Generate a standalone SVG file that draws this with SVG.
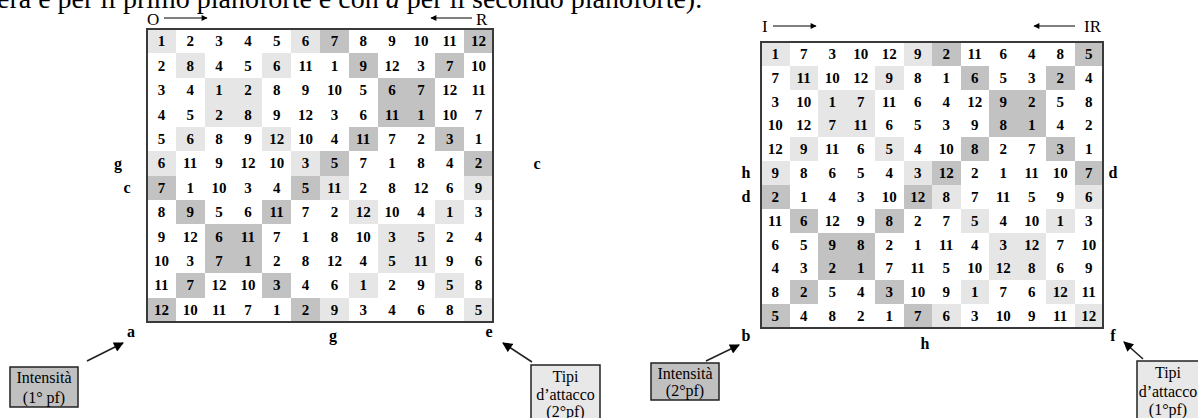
<svg xmlns="http://www.w3.org/2000/svg" xmlns:xlink="http://www.w3.org/1999/xlink" width="1198" height="418" viewBox="0 0 1198 418">
<style>
.n{font-family:"Liberation Serif","Times New Roman",serif;font-weight:bold;font-size:15px;text-anchor:middle;fill:#000}
.lb{font-family:"Liberation Serif","Times New Roman",serif;font-weight:bold;font-size:16px;text-anchor:middle;fill:#000}
.hd{font-family:"Liberation Serif","Times New Roman",serif;font-size:17px;fill:#000}
.bx{font-family:"Liberation Serif","Times New Roman",serif;font-size:16px;text-anchor:middle;fill:#000}
.cap{font-family:"Liberation Serif","Times New Roman",serif;font-size:28px;fill:#000}
.L{fill:#e6e6e6}
.D{fill:#c2c2c2}
.frame{fill:none;stroke:#3a3a3a;stroke-width:2}
.hl{stroke:#000;stroke-width:1.2;fill:none}
.cn{stroke:#222;stroke-width:1.6;fill:none}
.boxD{fill:#c0c0c0;stroke:#222;stroke-width:1.5}
.boxL{fill:#e8e8e8;stroke:#222;stroke-width:1.5}
</style>
<defs>
<marker id="ah" viewBox="0 0 10 10" refX="9" refY="5" markerWidth="7" markerHeight="6" orient="auto" markerUnits="userSpaceOnUse">
<path d="M0,0 L10,5 L0,10 z" fill="#000"/>
</marker>
<marker id="ab" viewBox="0 0 10 10" refX="9" refY="5" markerWidth="11" markerHeight="10" orient="auto" markerUnits="userSpaceOnUse">
<path d="M0,0 L10,5 L0,10 z" fill="#000"/>
</marker>
<g id="shading" shape-rendering="crispEdges">
<rect class="L" x="0" y="0" width="1" height="1"/><rect class="L" x="5" y="0" width="1" height="1"/>
<rect class="D" x="6" y="0" width="1" height="1"/><rect class="D" x="11" y="0" width="1" height="1"/>
<rect class="L" x="1" y="1" width="1" height="1"/><rect class="L" x="4" y="1" width="1" height="1"/>
<rect class="D" x="7" y="1" width="1" height="1"/><rect class="D" x="10" y="1" width="1" height="1"/>
<rect class="L" x="2" y="2" width="2" height="2"/><rect class="D" x="8" y="2" width="2" height="2"/>
<rect class="L" x="1" y="4" width="1" height="1"/><rect class="L" x="4" y="4" width="1" height="1"/>
<rect class="D" x="7" y="4" width="1" height="1"/><rect class="D" x="10" y="4" width="1" height="1"/>
<rect class="L" x="0" y="5" width="1" height="1"/><rect class="L" x="5" y="5" width="1" height="1"/>
<rect class="D" x="6" y="5" width="1" height="1"/><rect class="D" x="11" y="5" width="1" height="1"/>
<rect class="D" x="0" y="6" width="1" height="1"/><rect class="D" x="5" y="6" width="1" height="1"/>
<rect class="L" x="6" y="6" width="1" height="1"/><rect class="L" x="11" y="6" width="1" height="1"/>
<rect class="D" x="1" y="7" width="1" height="1"/><rect class="D" x="4" y="7" width="1" height="1"/>
<rect class="L" x="7" y="7" width="1" height="1"/><rect class="L" x="10" y="7" width="1" height="1"/>
<rect class="D" x="2" y="8" width="2" height="2"/><rect class="L" x="8" y="8" width="2" height="2"/>
<rect class="D" x="1" y="10" width="1" height="1"/><rect class="D" x="4" y="10" width="1" height="1"/>
<rect class="L" x="7" y="10" width="1" height="1"/><rect class="L" x="10" y="10" width="1" height="1"/>
<rect class="D" x="0" y="11" width="1" height="1"/><rect class="D" x="5" y="11" width="1" height="1"/>
<rect class="L" x="6" y="11" width="1" height="1"/><rect class="L" x="11" y="11" width="1" height="1"/>
</g>
</defs>
<rect width="1198" height="418" fill="#fff"/>

<text class="cap" x="-3" y="8">era e per il primo pianoforte e con <tspan font-style="italic">a</tspan> per il secondo pianoforte).</text>

<!-- Left matrix -->
<g id="matrix-left" transform="translate(147,29)">
<use xlink:href="#shading" href="#shading" transform="scale(28.833,24.417)"/>
<g class="n">
<g transform="translate(0,17.2)"><text x="14.4">1</text><text x="43.2">2</text><text x="72.1">3</text><text x="100.9">4</text><text x="129.7">5</text><text x="158.6">6</text><text x="187.4">7</text><text x="216.2">8</text><text x="245.1">9</text><text x="273.9">10</text><text x="302.7">11</text><text x="331.6">12</text></g>
<g transform="translate(0,41.6)"><text x="14.4">2</text><text x="43.2">8</text><text x="72.1">4</text><text x="100.9">5</text><text x="129.7">6</text><text x="158.6">11</text><text x="187.4">1</text><text x="216.2">9</text><text x="245.1">12</text><text x="273.9">3</text><text x="302.7">7</text><text x="331.6">10</text></g>
<g transform="translate(0,66.0)"><text x="14.4">3</text><text x="43.2">4</text><text x="72.1">1</text><text x="100.9">2</text><text x="129.7">8</text><text x="158.6">9</text><text x="187.4">10</text><text x="216.2">5</text><text x="245.1">6</text><text x="273.9">7</text><text x="302.7">12</text><text x="331.6">11</text></g>
<g transform="translate(0,90.5)"><text x="14.4">4</text><text x="43.2">5</text><text x="72.1">2</text><text x="100.9">8</text><text x="129.7">9</text><text x="158.6">12</text><text x="187.4">3</text><text x="216.2">6</text><text x="245.1">11</text><text x="273.9">1</text><text x="302.7">10</text><text x="331.6">7</text></g>
<g transform="translate(0,114.9)"><text x="14.4">5</text><text x="43.2">6</text><text x="72.1">8</text><text x="100.9">9</text><text x="129.7">12</text><text x="158.6">10</text><text x="187.4">4</text><text x="216.2">11</text><text x="245.1">7</text><text x="273.9">2</text><text x="302.7">3</text><text x="331.6">1</text></g>
<g transform="translate(0,139.3)"><text x="14.4">6</text><text x="43.2">11</text><text x="72.1">9</text><text x="100.9">12</text><text x="129.7">10</text><text x="158.6">3</text><text x="187.4">5</text><text x="216.2">7</text><text x="245.1">1</text><text x="273.9">8</text><text x="302.7">4</text><text x="331.6">2</text></g>
<g transform="translate(0,163.7)"><text x="14.4">7</text><text x="43.2">1</text><text x="72.1">10</text><text x="100.9">3</text><text x="129.7">4</text><text x="158.6">5</text><text x="187.4">11</text><text x="216.2">2</text><text x="245.1">8</text><text x="273.9">12</text><text x="302.7">6</text><text x="331.6">9</text></g>
<g transform="translate(0,188.1)"><text x="14.4">8</text><text x="43.2">9</text><text x="72.1">5</text><text x="100.9">6</text><text x="129.7">11</text><text x="158.6">7</text><text x="187.4">2</text><text x="216.2">12</text><text x="245.1">10</text><text x="273.9">4</text><text x="302.7">1</text><text x="331.6">3</text></g>
<g transform="translate(0,212.5)"><text x="14.4">9</text><text x="43.2">12</text><text x="72.1">6</text><text x="100.9">11</text><text x="129.7">7</text><text x="158.6">1</text><text x="187.4">8</text><text x="216.2">10</text><text x="245.1">3</text><text x="273.9">5</text><text x="302.7">2</text><text x="331.6">4</text></g>
<g transform="translate(0,237.0)"><text x="14.4">10</text><text x="43.2">3</text><text x="72.1">7</text><text x="100.9">1</text><text x="129.7">2</text><text x="158.6">8</text><text x="187.4">12</text><text x="216.2">4</text><text x="245.1">5</text><text x="273.9">11</text><text x="302.7">9</text><text x="331.6">6</text></g>
<g transform="translate(0,261.4)"><text x="14.4">11</text><text x="43.2">7</text><text x="72.1">12</text><text x="100.9">10</text><text x="129.7">3</text><text x="158.6">4</text><text x="187.4">6</text><text x="216.2">1</text><text x="245.1">2</text><text x="273.9">9</text><text x="302.7">5</text><text x="331.6">8</text></g>
<g transform="translate(0,285.8)"><text x="14.4">12</text><text x="43.2">10</text><text x="72.1">11</text><text x="100.9">7</text><text x="129.7">1</text><text x="158.6">2</text><text x="187.4">9</text><text x="216.2">3</text><text x="245.1">4</text><text x="273.9">6</text><text x="302.7">8</text><text x="331.6">5</text></g>
</g>
<rect class="frame" x="0" y="0" width="346" height="293"/>
</g>

<g id="labels-left">
<text class="hd" x="147" y="25">O</text>
<text class="hd" x="476" y="25">R</text>
<text class="lb" x="118" y="169">g</text>
<text class="lb" x="127" y="193">c</text>
<text class="lb" x="537" y="169">c</text>
<text class="lb" x="131" y="337">a</text>
<text class="lb" x="333" y="341">g</text>
<text class="lb" x="489" y="337">e</text>
</g>

<!-- Right matrix -->
<g id="matrix-right" transform="translate(761,42)">
<use xlink:href="#shading" href="#shading" transform="scale(28.5,23.833)"/>
<g class="n">
<g transform="translate(0,16.9)"><text x="14.2">1</text><text x="42.7">7</text><text x="71.2">3</text><text x="99.7">10</text><text x="128.2">12</text><text x="156.7">9</text><text x="185.2">2</text><text x="213.7">11</text><text x="242.2">6</text><text x="270.7">4</text><text x="299.2">8</text><text x="327.7">5</text></g>
<g transform="translate(0,40.7)"><text x="14.2">7</text><text x="42.7">11</text><text x="71.2">10</text><text x="99.7">12</text><text x="128.2">9</text><text x="156.7">8</text><text x="185.2">1</text><text x="213.7">6</text><text x="242.2">5</text><text x="270.7">3</text><text x="299.2">2</text><text x="327.7">4</text></g>
<g transform="translate(0,64.6)"><text x="14.2">3</text><text x="42.7">10</text><text x="71.2">1</text><text x="99.7">7</text><text x="128.2">11</text><text x="156.7">6</text><text x="185.2">4</text><text x="213.7">12</text><text x="242.2">9</text><text x="270.7">2</text><text x="299.2">5</text><text x="327.7">8</text></g>
<g transform="translate(0,88.4)"><text x="14.2">10</text><text x="42.7">12</text><text x="71.2">7</text><text x="99.7">11</text><text x="128.2">6</text><text x="156.7">5</text><text x="185.2">3</text><text x="213.7">9</text><text x="242.2">8</text><text x="270.7">1</text><text x="299.2">4</text><text x="327.7">2</text></g>
<g transform="translate(0,112.2)"><text x="14.2">12</text><text x="42.7">9</text><text x="71.2">11</text><text x="99.7">6</text><text x="128.2">5</text><text x="156.7">4</text><text x="185.2">10</text><text x="213.7">8</text><text x="242.2">2</text><text x="270.7">7</text><text x="299.2">3</text><text x="327.7">1</text></g>
<g transform="translate(0,136.1)"><text x="14.2">9</text><text x="42.7">8</text><text x="71.2">6</text><text x="99.7">5</text><text x="128.2">4</text><text x="156.7">3</text><text x="185.2">12</text><text x="213.7">2</text><text x="242.2">1</text><text x="270.7">11</text><text x="299.2">10</text><text x="327.7">7</text></g>
<g transform="translate(0,159.9)"><text x="14.2">2</text><text x="42.7">1</text><text x="71.2">4</text><text x="99.7">3</text><text x="128.2">10</text><text x="156.7">12</text><text x="185.2">8</text><text x="213.7">7</text><text x="242.2">11</text><text x="270.7">5</text><text x="299.2">9</text><text x="327.7">6</text></g>
<g transform="translate(0,183.7)"><text x="14.2">11</text><text x="42.7">6</text><text x="71.2">12</text><text x="99.7">9</text><text x="128.2">8</text><text x="156.7">2</text><text x="185.2">7</text><text x="213.7">5</text><text x="242.2">4</text><text x="270.7">10</text><text x="299.2">1</text><text x="327.7">3</text></g>
<g transform="translate(0,207.6)"><text x="14.2">6</text><text x="42.7">5</text><text x="71.2">9</text><text x="99.7">8</text><text x="128.2">2</text><text x="156.7">1</text><text x="185.2">11</text><text x="213.7">4</text><text x="242.2">3</text><text x="270.7">12</text><text x="299.2">7</text><text x="327.7">10</text></g>
<g transform="translate(0,231.4)"><text x="14.2">4</text><text x="42.7">3</text><text x="71.2">2</text><text x="99.7">1</text><text x="128.2">7</text><text x="156.7">11</text><text x="185.2">5</text><text x="213.7">10</text><text x="242.2">12</text><text x="270.7">8</text><text x="299.2">6</text><text x="327.7">9</text></g>
<g transform="translate(0,255.2)"><text x="14.2">8</text><text x="42.7">2</text><text x="71.2">5</text><text x="99.7">4</text><text x="128.2">3</text><text x="156.7">10</text><text x="185.2">9</text><text x="213.7">1</text><text x="242.2">7</text><text x="270.7">6</text><text x="299.2">12</text><text x="327.7">11</text></g>
<g transform="translate(0,279.1)"><text x="14.2">5</text><text x="42.7">4</text><text x="71.2">8</text><text x="99.7">2</text><text x="128.2">1</text><text x="156.7">7</text><text x="185.2">6</text><text x="213.7">3</text><text x="242.2">10</text><text x="270.7">9</text><text x="299.2">11</text><text x="327.7">12</text></g>
</g>
<rect class="frame" x="0" y="0" width="342" height="286"/>
</g>

<g id="labels-right">
<text class="hd" x="762" y="32">I</text>
<text class="hd" x="1101" y="32" text-anchor="end">IR</text>
<text class="lb" x="746" y="178">h</text>
<text class="lb" x="746" y="202">d</text>
<text class="lb" x="1113" y="178">d</text>
<text class="lb" x="746" y="341">b</text>
<text class="lb" x="925" y="349">h</text>
<text class="lb" x="1113" y="341">f</text>
</g>

<g id="box-intensita-1">
<rect class="boxD" x="10" y="367" width="68" height="40"/>
<text class="bx" x="44" y="383">Intensità</text>
<text class="bx" x="44" y="403">(1° pf)</text>
</g>
<g id="box-tipi-2">
<rect class="boxL" x="531" y="365" width="69" height="60"/>
<text class="bx" x="565.5" y="382">Tipi</text>
<text class="bx" x="565.5" y="400">d’attacco</text>
<text class="bx" x="565.5" y="417">(2°pf)</text>
</g>
<g id="box-intensita-2">
<rect class="boxD" x="651" y="363" width="68" height="37"/>
<text class="bx" x="685" y="379">Intensità</text>
<text class="bx" x="685" y="396">(2°pf)</text>
</g>
<g id="box-tipi-1">
<rect class="boxL" x="1137" y="361" width="66" height="60"/>
<text class="bx" x="1168" y="378">Tipi</text>
<text class="bx" x="1168" y="397">d’attacco</text>
<text class="bx" x="1168" y="415">(1°pf)</text>
</g>

<g id="connectors">
<line class="hl" x1="164" y1="18" x2="207" y2="18" marker-end="url(#ah)"/>
<line class="hl" x1="472" y1="18" x2="431" y2="18" marker-end="url(#ah)"/>
<line class="hl" x1="773" y1="26" x2="816" y2="26" marker-end="url(#ah)"/>
<line class="hl" x1="1075" y1="26" x2="1034" y2="26" marker-end="url(#ah)"/>
<line class="cn" x1="87" y1="361" x2="123" y2="343" marker-end="url(#ab)"/>
<line class="cn" x1="532" y1="362" x2="503" y2="343" marker-end="url(#ab)"/>
<line class="cn" x1="706" y1="361" x2="739" y2="345" marker-end="url(#ab)"/>
<line class="cn" x1="1143" y1="359" x2="1124" y2="342" marker-end="url(#ab)"/>
</g>
</svg>
